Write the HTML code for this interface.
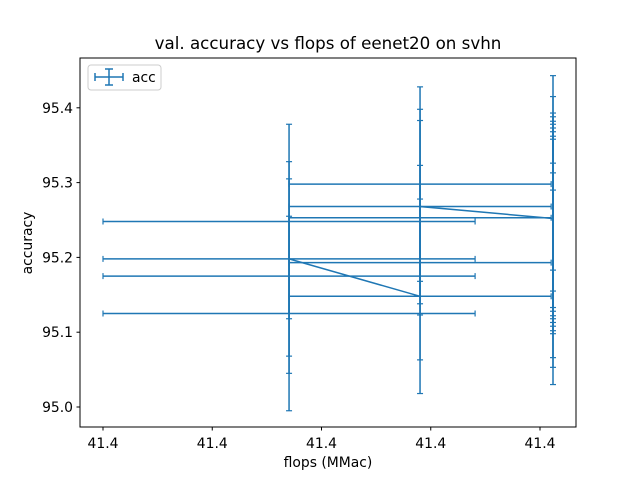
<!DOCTYPE html>
<html><head><meta charset="utf-8"><style>body{margin:0;background:#fff}svg{display:block;font-family:"DejaVu Sans","Liberation Sans",sans-serif}</style></head>
<body>
<svg id="chart" width="640" height="480">
<rect x="0" y="0" width="640" height="480" fill="#fff"/>
<text x="328" y="49" font-size="16.7" text-anchor="middle">val. accuracy vs flops of eenet20 on svhn</text>
<text x="328" y="467" font-size="13.9" text-anchor="middle">flops (MMac)</text>
<text x="32" y="243" font-size="13.9" text-anchor="middle" transform="rotate(-90 32 243)">accuracy</text>
<g id="marks"></g>
<rect x="80" y="58" width="496" height="369" fill="none" stroke="#000" stroke-width="1"/>
<g id="ticks"></g>
<g>
<rect x="88" y="65" width="73" height="25" rx="3" fill="#fff" stroke="#ccc"/>
<line x1="95" y1="77" x2="123" y2="77" stroke="#1f77b4" stroke-width="1.5"/>
<line x1="95" y1="73" x2="95" y2="81" stroke="#1f77b4" stroke-width="1.5"/>
<line x1="123" y1="73" x2="123" y2="81" stroke="#1f77b4" stroke-width="1.5"/>
<line x1="109" y1="69" x2="109" y2="85" stroke="#1f77b4" stroke-width="1.5"/>
<line x1="105" y1="69" x2="113" y2="69" stroke="#1f77b4" stroke-width="1.5"/>
<line x1="105" y1="85" x2="113" y2="85" stroke="#1f77b4" stroke-width="1.5"/>
<text x="132" y="82" font-size="13.9">acc</text>
</g>
</svg>
<script>
const flops = [1.703,1.703,1.703,1.703, 2.902,2.902,2.902,2.902,2.902, 4.119,4.119,4.119,4.119,4.119,4.119,4.119,4.119,4.119,4.119,4.119,4.119,4.119];
const acc = [95.248,95.175,95.125,95.198, 95.148,95.193,95.253,95.298,95.268, 95.252,95.313,95.285,95.263,95.258,95.248,95.243,95.238,95.232,95.228,95.196,95.183,95.160];
const accErr = [0.13,0.13,0.13,0.13, 0.13,0.13,0.13,0.13,0.13, 0.13,0.13,0.13,0.13,0.13,0.13,0.13,0.13,0.13,0.13,0.13,0.13,0.13];
const flopsErr = [1.703,1.703,1.703,1.703, 1.2,1.2,1.2,1.2,1.2, 0,0,0,0,0,0,0,0,0,0,0,0,0];
const xTicks = [0,1,2,3,4];
const xTickLabels = ["41.4","41.4","41.4","41.4","41.4"];
const yTicks = [95.0,95.1,95.2,95.3,95.4];
const yTickLabels = ["95.0","95.1","95.2","95.3","95.4"];
const NS="http://www.w3.org/2000/svg";
const sx=v=>103+v*109.25;
const sy=v=>407-(v-95.0)*748;
const C="#1f77b4";
function mk(tag,attrs,parent){const e=document.createElementNS(NS,tag);for(const k in attrs)e.setAttribute(k,attrs[k]);parent.appendChild(e);return e;}
const marks=document.getElementById('marks');
const ticks=document.getElementById('ticks');
for(let i=0;i<acc.length;i++){
  const g=mk('g',{},marks);
  
  
  const x=sx(flops[i]),y=sy(acc[i]);
  const y1=sy(acc[i]+accErr[i]),y2=sy(acc[i]-accErr[i]);
  mk('line',{x1:x,y1:y1,x2:x,y2:y2,stroke:C,'stroke-width':1.5},g);
  mk('line',{x1:x-3,y1:y1,x2:x+3,y2:y1,stroke:C,'stroke-width':1.2},g);
  mk('line',{x1:x-3,y1:y2,x2:x+3,y2:y2,stroke:C,'stroke-width':1.2},g);
  if(flopsErr[i]>0){
    const xa=sx(flops[i]-flopsErr[i]),xb=sx(flops[i]+flopsErr[i]);
    mk('line',{x1:xa,y1:y,x2:xb,y2:y,stroke:C,'stroke-width':1.5},g);
    mk('line',{x1:xa,y1:y-3,x2:xa,y2:y+3,stroke:C,'stroke-width':1.2},g);
    mk('line',{x1:xb,y1:y-3,x2:xb,y2:y+3,stroke:C,'stroke-width':1.2},g);
  }
}
const pts=acc.map((a,i)=>sx(flops[i])+','+sy(a)).join(' ');
const pl=mk('polyline',{points:pts,fill:'none',stroke:C,'stroke-width':1.5},marks);


xTicks.forEach((t,i)=>{
  const x=sx(t);
  const l=mk('line',{x1:x,y1:427,x2:x,y2:430.5,stroke:'#000'},ticks);
  
  
  const tx=mk('text',{x:x,y:448,'font-size':13.9,'text-anchor':'middle'},ticks);
  tx.textContent=xTickLabels[i];
  
  
});
yTicks.forEach((t,i)=>{
  const y=sy(t);
  const l=mk('line',{x1:76.5,y1:y,x2:80,y2:y,stroke:'#000'},ticks);
  
  
  const tx=mk('text',{x:73,y:y+5,'font-size':13.9,'text-anchor':'end'},ticks);
  tx.textContent=yTickLabels[i];
  
  
});
</script>
</body></html>
